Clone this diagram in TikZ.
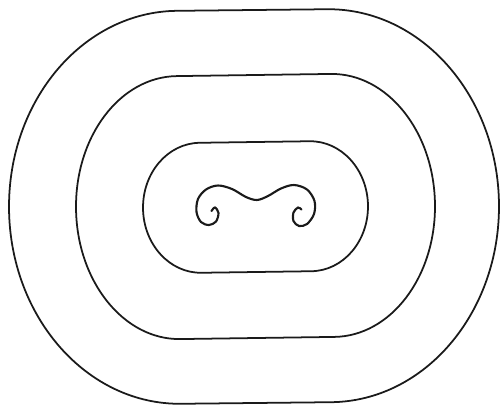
\documentclass[tikz,border=0pt]{standalone}
\usetikzlibrary{calc}
\definecolor{Ink}{HTML}{1A1A1A}
\definecolor{Paper}{HTML}{FFFFFF}
\tikzset{
  ring/.style={draw=Ink, line width=1.5pt, line join=round},
  curl/.style={draw=Ink, line width=1.8pt, line cap=round}
}
\begin{document}
\begin{tikzpicture}[x=0.03cm,y=-0.03cm]
    \fill[Paper] (0,0) rectangle (503,408);
    \useasboundingbox (0,0) rectangle (503,408);
    % outer ring
    \draw[ring,rotate around={0.6:(254,206.5)}]
      (179,10) -- (329,10)
      arc[start angle=-90,end angle=90,x radius=170,y radius=196.5]
      -- (179,403)
      arc[start angle=90,end angle=270,x radius=170,y radius=196.5] -- cycle;
    % middle ring
    \draw[ring,rotate around={0.8:(255.5,206.5)}]
      (178.5,75) -- (332.5,75)
      arc[start angle=-90,end angle=90,x radius=102.5,y radius=131.5]
      -- (178.5,338)
      arc[start angle=90,end angle=270,x radius=102.5,y radius=131.5] -- cycle;
    % inner ring
    \draw[ring,rotate around={0.8:(255.5,207)}]
      (200.5,142) -- (310.5,142)
      arc[start angle=-90,end angle=90,x radius=57.5,y radius=65]
      -- (200.5,272)
      arc[start angle=90,end angle=270,x radius=57.5,y radius=65] -- cycle;
    % scroll
    \draw[curl] plot[smooth,tension=0.55] coordinates {
      (211.5,211) (215,207.5) (218.5,213) (216,221.5) (209,225)
      (201,222) (196.5,212) (198,199) (206,189.5) (218,185.5)
      (232,189) (246,197) (257,200) (268,196) (281,188.5)
      (294,185) (307,189.5) (314.5,201) (314,214) (307,224)
      (299,226) (293.5,221) (293.5,212.5) (298,207.5) (301.5,209.5)};
\end{tikzpicture}
\end{document}
